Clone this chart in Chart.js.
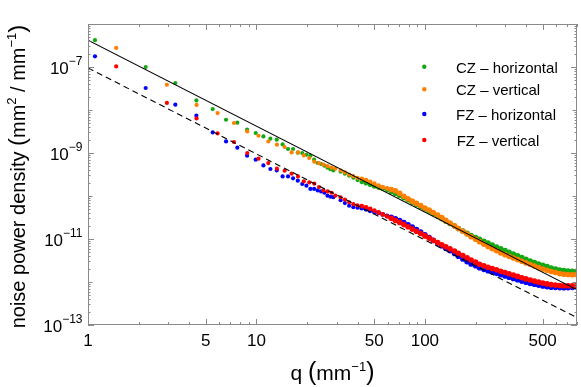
<!DOCTYPE html>
<html>
<head>
<meta charset="utf-8">
<script src="https://cdn.jsdelivr.net/npm/chart.js@4/dist/chart.umd.min.js"></script>
<style>
html,body{margin:0;padding:0;background:#ffffff;}
#wrap{width:581px;height:387px;}
</style>
</head>
<body>
<div id="wrap"><canvas id="c" width="581" height="387"></canvas></div>
<script>
// ---------------- data ----------------
const seriesLabels = ['CZ \u2013 horizontal', 'CZ \u2013 vertical', 'FZ \u2013 horizontal', 'FZ \u2013 vertical'];
const seriesColors = ['#14a814', '#ff8000', '#0000ff', '#ff0000'];

// low-q (sparse) samples: horizontal cuts step 1.1 mm^-1, vertical cuts step 1.47 mm^-1
const qHorizLow = [1.1, 2.2, 3.3, 4.4, 5.5, 6.6, 7.7, 8.8, 9.9, 11, 12.1, 13.2, 14.3, 15.4, 16.5, 17.6, 18.7, 19.8, 20.9, 22, 23.1, 24.2, 25.3, 26.4, 27.5, 28.6];
const qVertLow = [1.47, 2.94, 4.41, 5.88, 7.35, 8.82, 10.29, 11.76, 13.23, 14.7, 16.17, 17.64, 19.11, 20.58, 22.05, 23.52, 24.99, 26.46, 27.93, 29.4];

const czHorizLow = [4.2e-7, 1.0e-7, 4.25e-8, 1.67e-8, 1.05e-8, 5.94e-9, 5.07e-9, 3.48e-9, 2.92e-9, 2.43e-9, 2.15e-9, 2.04e-9, 1.58e-9, 1.24e-9, 1.24e-9, 1.02e-9, 1.0e-9, 9.1e-10, 8.66e-10, 6.98e-10, 5.85e-10, 5.55e-10, 5.07e-10, 4.55e-10, 4.2e-10, 3.94e-10];
const czVertLow = [2.77e-7, 3.87e-8, 1.31e-8, 8.5e-9, 4.99e-9, 3.18e-9, 2.52e-9, 1.85e-9, 1.56e-9, 1.38e-9, 1.03e-9, 1.03e-9, 8.8e-10, 7.66e-10, 6.28e-10, 5.79e-10, 5.35e-10, 4.93e-10, 4.55e-10, 4.31e-10];
const fzHorizLow = [1.77e-7, 3.25e-8, 1.33e-8, 7.36e-9, 3.01e-9, 1.86e-9, 1.33e-9, 8.65e-10, 6.98e-10, 5.15e-10, 4.25e-10, 3.94e-10, 2.86e-10, 2.86e-10, 2.57e-10, 2.27e-10, 1.9e-10, 1.74e-10, 1.46e-10, 1.46e-10, 1.35e-10, 1.28e-10, 1.19e-10, 1.02e-10, 9.6e-11, 9.4e-11];
const fzVertLow = [1.03e-7, 1.46e-8, 6.38e-9, 2.86e-9, 1.8e-9, 1.0e-9, 7.36e-10, 5.84e-10, 4.31e-10, 3.87e-10, 3.3e-10, 2.86e-10, 2.19e-10, 2.07e-10, 1.93e-10, 1.62e-10, 1.35e-10, 1.28e-10, 1.19e-10, 1.02e-10];

// high-q (dense) samples read along the bands
const qHigh = [31.6, 33.5, 35.5, 37.6, 39.8, 42.2, 44.7, 47.3, 50.1, 53.1, 56.2, 59.6, 63.1, 66.8, 70.8, 75, 79.4, 84.1, 89.1, 94.4, 100, 106, 112, 119, 126, 133, 141, 150, 158, 168, 178, 188, 200, 211, 224, 237, 251, 266, 282, 299, 316, 335, 355, 376, 398, 422, 447, 473, 501, 531, 562, 596, 631, 668, 708, 750, 794];

const czHorizHigh = [3.67e-10, 3.31e-10, 2.96e-10, 2.67e-10, 2.34e-10, 2.14e-10, 1.97e-10, 1.82e-10, 1.67e-10, 1.57e-10, 1.48e-10, 1.39e-10, 1.27e-10, 1.16e-10, 1.04e-10, 9.25e-11, 8.15e-11, 7.19e-11, 6.37e-11, 5.65e-11, 5.01e-11, 4.47e-11, 3.94e-11, 3.44e-11, 2.99e-11, 2.61e-11, 2.29e-11, 2.0e-11, 1.75e-11, 1.53e-11, 1.35e-11, 1.2e-11, 1.08e-11, 9.82e-12, 8.89e-12, 8.05e-12, 7.24e-12, 6.53e-12, 5.89e-12, 5.38e-12, 4.9e-12, 4.47e-12, 4.06e-12, 3.7e-12, 3.37e-12, 3.07e-12, 2.84e-12, 2.63e-12, 2.44e-12, 2.28e-12, 2.11e-12, 2.0e-12, 1.9e-12, 1.84e-12, 1.79e-12, 1.78e-12, 1.77e-12];
const czVertHigh = [3.92e-10, 3.56e-10, 3.13e-10, 2.89e-10, 2.65e-10, 2.49e-10, 2.34e-10, 2.14e-10, 1.93e-10, 1.75e-10, 1.6e-10, 1.51e-10, 1.42e-10, 1.32e-10, 1.16e-10, 9.86e-11, 8.61e-11, 7.59e-11, 6.73e-11, 5.96e-11, 5.28e-11, 4.71e-11, 4.13e-11, 3.61e-11, 3.14e-11, 2.71e-11, 2.34e-11, 2.02e-11, 1.75e-11, 1.51e-11, 1.31e-11, 1.13e-11, 9.89e-12, 8.67e-12, 7.6e-12, 6.7e-12, 5.94e-12, 5.3e-12, 4.74e-12, 4.33e-12, 3.95e-12, 3.62e-12, 3.32e-12, 3.03e-12, 2.78e-12, 2.56e-12, 2.36e-12, 2.18e-12, 2.01e-12, 1.87e-12, 1.75e-12, 1.66e-12, 1.57e-12, 1.52e-12, 1.49e-12, 1.48e-12, 1.49e-12];
const fzHorizHigh = [7.96e-11, 6.84e-11, 5.93e-11, 5.5e-11, 5.33e-11, 5.2e-11, 4.9e-11, 4.53e-11, 4.24e-11, 4.03e-11, 3.72e-11, 3.44e-11, 3.21e-11, 2.94e-11, 2.67e-11, 2.4e-11, 2.13e-11, 1.89e-11, 1.66e-11, 1.45e-11, 1.25e-11, 1.08e-11, 9.31e-12, 8.04e-12, 6.97e-12, 6.08e-12, 5.31e-12, 4.6e-12, 3.97e-12, 3.43e-12, 2.96e-12, 2.62e-12, 2.4e-12, 2.15e-12, 1.97e-12, 1.83e-12, 1.7e-12, 1.59e-12, 1.48e-12, 1.38e-12, 1.29e-12, 1.21e-12, 1.13e-12, 1.05e-12, 9.86e-13, 9.29e-13, 8.91e-13, 8.47e-13, 8.09e-13, 7.78e-13, 7.55e-13, 7.5e-13, 7.4e-13, 7.38e-13, 7.4e-13, 7.5e-13, 7.64e-13];
const fzVertHigh = [9.35e-11, 8.24e-11, 7.16e-11, 6.44e-11, 6.1e-11, 5.79e-11, 5.45e-11, 5.04e-11, 4.59e-11, 4.13e-11, 3.72e-11, 3.36e-11, 3.04e-11, 2.71e-11, 2.43e-11, 2.16e-11, 1.92e-11, 1.7e-11, 1.51e-11, 1.34e-11, 1.18e-11, 1.05e-11, 9.31e-12, 8.24e-12, 7.35e-12, 6.59e-12, 5.9e-12, 5.26e-12, 4.67e-12, 4.13e-12, 3.66e-12, 3.25e-12, 2.9e-12, 2.59e-12, 2.38e-12, 2.21e-12, 2.06e-12, 1.92e-12, 1.78e-12, 1.66e-12, 1.55e-12, 1.45e-12, 1.35e-12, 1.26e-12, 1.18e-12, 1.11e-12, 1.05e-12, 9.95e-13, 9.46e-13, 9.04e-13, 8.67e-13, 8.47e-13, 8.32e-13, 8.2e-13, 8.18e-13, 8.2e-13, 8.22e-13];

// q^-2 reference lines (end points)
const solidLineQ = [1, 800];
const solidLineV = [4.2e-7, 6.56e-13];
const dashedLineQ = [1, 800];
const dashedLineV = [9.5e-8, 1.48e-13];

// tick labels
const xTickValues = [1, 5, 10, 50, 100, 500];
const yTickExponents = [-7, -9, -11, -13];
const xTitle = ['q ', '(', 'mm', '\u22121', ')'];
const yTitle = ['noise power density ', '(', 'mm', '2', ' / ', 'mm', '\u22121', ')'];

// ---------------- chart ----------------
function pts(qs, vs) { return qs.map((q, i) => ({ x: q, y: vs[i] })); }

const seriesData = [
  pts(qHorizLow, czHorizLow).concat(pts(qHigh, czHorizHigh)),
  pts(qVertLow, czVertLow).concat(pts(qHigh, czVertHigh)),
  pts(qHorizLow, fzHorizLow).concat(pts(qHigh, fzHorizHigh)),
  pts(qVertLow, fzVertLow).concat(pts(qHigh, fzVertHigh))
];
const drawOrder = [4, 3, 2, 1]; // later series drawn on top

const datasets = [];
datasets.push({ type: 'line', data: pts(solidLineQ, solidLineV), borderColor: '#000', borderWidth: 1.1, pointRadius: 0, fill: false, order: 0 });
datasets.push({ type: 'line', data: pts(dashedLineQ, dashedLineV), borderColor: '#000', borderWidth: 1.1, borderDash: [6, 4], pointRadius: 0, fill: false, order: 0 });
seriesData.forEach((d, k) => {
  datasets.push({
    type: 'scatter', label: seriesLabels[k], data: d,
    backgroundColor: seriesColors[k], borderWidth: 0,
    pointRadius: ctx => {
      const x = ctx.raw ? ctx.raw.x : 0;
      return x > 60 ? 2.8 : (x > 40 ? 2.4 : 2.1);
    },
    order: drawOrder[k]
  });
});

const FONT = '"Liberation Sans", Arial, Helvetica, sans-serif';
const FRAME = '#8a8a8a';

function drawPieces(ctx, pieces, x0, y0) {
  let x = x0;
  pieces.forEach(p => {
    ctx.font = p.f + 'px ' + FONT;
    ctx.fillText(p.t, x, y0 + (p.dy || 0));
    x += ctx.measureText(p.t).width;
  });
  return x - x0;
}
function piecesWidth(ctx, pieces) {
  let w = 0;
  pieces.forEach(p => { ctx.font = p.f + 'px ' + FONT; w += ctx.measureText(p.t).width; });
  return w;
}

const decor = {
  id: 'decor',
  afterDraw(chart) {
    const ctx = chart.ctx;
    const a = chart.chartArea;
    const xs = chart.scales.x, ys = chart.scales.y;
    ctx.save();
    // frame
    ctx.strokeStyle = FRAME;
    ctx.lineWidth = 1;
    ctx.strokeRect(a.left + 0.5, a.top + 0.5, a.right - a.left - 1, a.bottom - a.top - 1);
    // x ticks
    ctx.beginPath();
    for (let d = 1; d <= 100; d *= 10) {
      for (let m = 1; m <= 9; m++) {
        const v = m * d;
        if (v > xs.max) continue;
        const px = Math.round(xs.getPixelForValue(v)) + 0.5;
        const len = (m === 1 || m === 5) ? 6 : 3;
        ctx.moveTo(px, a.bottom); ctx.lineTo(px, a.bottom - len);
        ctx.moveTo(px, a.top); ctx.lineTo(px, a.top + len);
      }
    }
    // y ticks
    for (let e = -13; e <= -7; e++) {
      for (let m = 1; m <= 9; m++) {
        const v = m * Math.pow(10, e);
        if (v > ys.max * 1.0001) continue;
        const py = Math.round(ys.getPixelForValue(v)) + 0.5;
        const len = m === 1 ? (yTickExponents.indexOf(e) >= 0 ? 6 : 4.5) : 2.5;
        ctx.moveTo(a.left, py); ctx.lineTo(a.left + len, py);
        ctx.moveTo(a.right, py); ctx.lineTo(a.right - len, py);
      }
    }
    ctx.stroke();

    ctx.fillStyle = '#000';
    // x tick labels
    ctx.textAlign = 'center';
    ctx.textBaseline = 'alphabetic';
    ctx.font = '17px ' + FONT;
    xTickValues.forEach(v => {
      ctx.fillText(String(v), xs.getPixelForValue(v), a.bottom + 21);
    });
    // y tick labels 10^e
    ctx.textAlign = 'left';
    yTickExponents.forEach(e => {
      const py = ys.getPixelForValue(Math.pow(10, e));
      const pieces = [{ t: '10', f: 17, dy: 0 }, { t: '\u2212' + String(-e), f: 12, dy: -8.5 }];
      const w = piecesWidth(ctx, pieces);
      drawPieces(ctx, pieces, 82.5 - w, py + 6.5);
    });
    // x title
    const xt = [{ t: xTitle[0], f: 21 }, { t: xTitle[1], f: 25, dy: 0 }, { t: xTitle[2], f: 21 }, { t: xTitle[3], f: 13, dy: -9.5 }, { t: xTitle[4], f: 25 }];
    const xcw = piecesWidth(ctx, xt);
    drawPieces(ctx, xt, (a.left + a.right) / 2 - xcw / 2, 380);
    // y title (rotated)
    const yt = [{ t: yTitle[0], f: 20 }, { t: yTitle[1], f: 24 }, { t: yTitle[2], f: 20 }, { t: yTitle[3], f: 13, dy: -9 },
                { t: yTitle[4], f: 20 }, { t: yTitle[5], f: 20 }, { t: yTitle[6], f: 13, dy: -9 }, { t: yTitle[7], f: 24 }];
    const ycw = piecesWidth(ctx, yt);
    ctx.save();
    ctx.translate(25, (a.top + a.bottom) / 2 + 2);
    ctx.rotate(-Math.PI / 2);
    drawPieces(ctx, yt, -ycw / 2, 0);
    ctx.restore();
    // legend
    const rows = [66.7, 89.3, 114, 140];
    const textX = [456, 456, 456, 456.7];
    ctx.font = '15px ' + FONT;
    ctx.textAlign = 'left';
    seriesLabels.forEach((lab, k) => {
      ctx.fillStyle = seriesColors[k];
      ctx.beginPath();
      ctx.arc(424.3, rows[k], 2.2, 0, Math.PI * 2);
      ctx.fill();
      ctx.fillStyle = '#000';
      ctx.fillText(lab, textX[k], rows[k] + 5.8);
    });
    ctx.restore();
  }
};

new Chart(document.getElementById('c'), {
  type: 'scatter',
  data: { datasets: datasets },
  options: {
    responsive: false,
    animation: false,
    devicePixelRatio: 1,
    events: [],
    layout: { padding: { left: 88, right: 4, top: 24, bottom: 62 } },
    plugins: { legend: { display: false }, tooltip: { enabled: false } },
    scales: {
      x: { type: 'logarithmic', min: 1, max: 800, display: false },
      y: { type: 'logarithmic', min: 1e-13, max: 1e-6, display: false }
    }
  },
  plugins: [decor]
});
</script>
</body>
</html>
